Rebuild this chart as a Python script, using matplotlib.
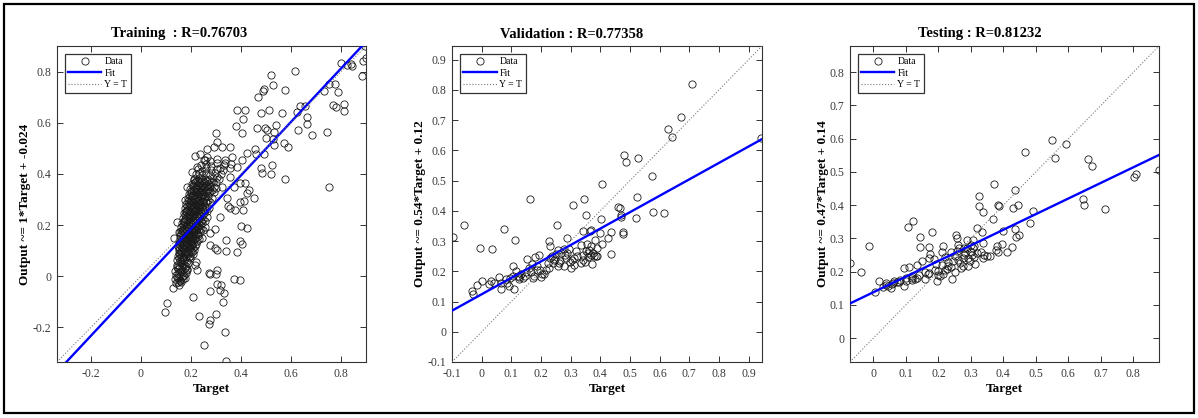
import matplotlib
matplotlib.use('Agg')
import matplotlib.pyplot as plt
from matplotlib.patches import Rectangle
from matplotlib.ticker import FuncFormatter, MultipleLocator

# ---------------- DATA ----------------
# Training: dense cluster (row by row) + scattered points
train_target = [
    0.142, 0.153, 0.161,
    0.136, 0.149, 0.158, 0.168,
    0.141, 0.150, 0.163, 0.172, 0.179,
    0.138, 0.147, 0.156, 0.166, 0.176, 0.186,
    0.143, 0.152, 0.160, 0.171, 0.181, 0.190,
    0.146, 0.155, 0.164, 0.174, 0.184, 0.195,
    0.148, 0.158, 0.167, 0.177, 0.188, 0.198, 0.207,
    0.151, 0.160, 0.170, 0.180, 0.190, 0.201, 0.212,
    0.149, 0.157, 0.166, 0.175, 0.185, 0.194, 0.204, 0.216,
    0.154, 0.163, 0.172, 0.182, 0.192, 0.202, 0.211, 0.224,
    0.158, 0.167, 0.176, 0.186, 0.195, 0.205, 0.215, 0.228, 0.243,
    0.156, 0.165, 0.174, 0.183, 0.193, 0.203, 0.213, 0.222, 0.236,
    0.161, 0.170, 0.179, 0.188, 0.198, 0.207, 0.217, 0.227, 0.240, 0.256,
    0.165, 0.174, 0.183, 0.192, 0.201, 0.211, 0.221, 0.232, 0.246,
    0.169, 0.178, 0.187, 0.196, 0.205, 0.214, 0.224, 0.234, 0.248, 0.263,
    0.173, 0.182, 0.191, 0.200, 0.209, 0.218, 0.228, 0.239, 0.252,
    0.177, 0.186, 0.195, 0.204, 0.213, 0.222, 0.232, 0.243, 0.257, 0.272,
    0.182, 0.191, 0.200, 0.209, 0.218, 0.227, 0.237, 0.248, 0.262,
    0.187, 0.196, 0.205, 0.214, 0.223, 0.232, 0.242, 0.253, 0.267, 0.283,
    0.192, 0.201, 0.210, 0.219, 0.228, 0.238, 0.248, 0.259, 0.274,
    0.198, 0.207, 0.216, 0.225, 0.235, 0.245, 0.256, 0.268, 0.285, 0.302,
    0.204, 0.214, 0.224, 0.234, 0.245, 0.257, 0.270, 0.288,
    0.211, 0.222, 0.233, 0.245, 0.258, 0.272, 0.290, 0.312,
    0.219, 0.232, 0.246, 0.261, 0.278, 0.298, 0.322,
    0.228, 0.244, 0.262, 0.281, 0.303, 0.330, 0.355,
    0.240, 0.259, 0.280, 0.304, 0.332, 0.362,
    0.255, 0.278, 0.305, 0.336,
    # scattered, upper right
    0.897, 0.900, 0.887, 0.884, 0.800, 0.824, 0.840, 0.844,
    0.733, 0.751, 0.775, 0.787, 0.767, 0.781, 0.811, 0.811,
    0.744, 0.751, 0.684, 0.664, 0.664, 0.657, 0.635, 0.624,
    0.627, 0.617, 0.577, 0.564, 0.573, 0.587, 0.575, 0.519,
    0.528, 0.493, 0.488, 0.468, 0.511, 0.481, 0.417, 0.384,
    0.408, 0.404, 0.379, 0.464, 0.495, 0.504, 0.541, 0.531,
    0.499, 0.528, 0.531, 0.524, 0.519, 0.480, 0.484, 0.457,
    0.461, 0.491, 0.451, 0.301, 0.235, 0.217, 0.264,
    # scattered, right of cluster
    0.397, 0.417, 0.431, 0.424, 0.411, 0.395, 0.377, 0.408,
    0.348, 0.355, 0.344, 0.317, 0.297, 0.277, 0.324, 0.371,
    0.357, 0.384, 0.404, 0.424, 0.364, 0.337, 0.317, 0.304,
    0.291, 0.357, 0.324, 0.304, 0.291, 0.264, 0.251, 0.224,
    0.204, 0.211, 0.184, 0.177, 0.144, 0.151, 0.131,
    # scattered, lower
    0.424, 0.400, 0.397, 0.404, 0.384, 0.341, 0.340, 0.304,
    0.277, 0.297, 0.371, 0.397, 0.304, 0.301, 0.271, 0.275,
    0.220, 0.215, 0.224, 0.304, 0.321, 0.317, 0.333, 0.275,
    0.327, 0.208, 0.301, 0.233, 0.271, 0.275, 0.337, 0.253,
    0.339, 0.127, 0.104, 0.097,
]
train_output = [
    -0.028, -0.035, -0.022,
    -0.012, -0.006, -0.018, -0.010,
    0.004, 0.010, -0.002, 0.006, 0.012,
    0.022, 0.030, 0.018, 0.026, 0.034, 0.024,
    0.044, 0.040, 0.050, 0.046, 0.042, 0.052,
    0.062, 0.058, 0.068, 0.064, 0.060, 0.070,
    0.080, 0.086, 0.076, 0.084, 0.090, 0.078, 0.088,
    0.102, 0.096, 0.106, 0.100, 0.108, 0.098, 0.104,
    0.118, 0.124, 0.114, 0.122, 0.126, 0.116, 0.124, 0.118,
    0.138, 0.132, 0.142, 0.136, 0.140, 0.134, 0.144, 0.138,
    0.156, 0.150, 0.160, 0.154, 0.158, 0.152, 0.162, 0.156, 0.150,
    0.172, 0.176, 0.168, 0.178, 0.170, 0.176, 0.172, 0.180, 0.174,
    0.192, 0.186, 0.196, 0.190, 0.194, 0.188, 0.198, 0.192, 0.186, 0.194,
    0.208, 0.212, 0.204, 0.214, 0.206, 0.212, 0.208, 0.216, 0.210,
    0.228, 0.222, 0.232, 0.226, 0.230, 0.224, 0.234, 0.228, 0.222, 0.230,
    0.246, 0.250, 0.242, 0.252, 0.244, 0.250, 0.246, 0.254, 0.248,
    0.266, 0.260, 0.270, 0.264, 0.268, 0.262, 0.272, 0.266, 0.260, 0.268,
    0.284, 0.288, 0.280, 0.290, 0.282, 0.288, 0.284, 0.292, 0.286,
    0.304, 0.298, 0.308, 0.302, 0.306, 0.300, 0.310, 0.304, 0.298, 0.306,
    0.322, 0.326, 0.318, 0.328, 0.320, 0.326, 0.322, 0.330, 0.324,
    0.342, 0.336, 0.346, 0.340, 0.344, 0.338, 0.348, 0.342, 0.336, 0.344,
    0.360, 0.364, 0.356, 0.366, 0.358, 0.364, 0.360, 0.368,
    0.380, 0.374, 0.384, 0.378, 0.382, 0.376, 0.386, 0.380,
    0.398, 0.402, 0.394, 0.404, 0.396, 0.402, 0.398,
    0.418, 0.412, 0.422, 0.416, 0.420, 0.414, 0.422,
    0.436, 0.440, 0.432, 0.442, 0.434, 0.440,
    0.456, 0.452, 0.460, 0.454,
    # scattered, upper right
    0.901, 0.852, 0.843, 0.781, 0.835, 0.827, 0.830, 0.822,
    0.726, 0.752, 0.752, 0.722, 0.668, 0.661, 0.672, 0.645,
    0.564, 0.350, 0.554, 0.597, 0.623, 0.664, 0.664, 0.642,
    0.571, 0.802, 0.729, 0.639, 0.519, 0.506, 0.380, 0.787,
    0.746, 0.733, 0.724, 0.700, 0.648, 0.638, 0.648, 0.648,
    0.613, 0.560, 0.586, 0.580, 0.581, 0.573, 0.590, 0.564,
    0.542, 0.538, 0.515, 0.435, 0.399, 0.422, 0.402, 0.499,
    0.477, 0.477, 0.305, 0.560, 0.477, 0.471, 0.467,
    # scattered, right of cluster
    0.366, 0.363, 0.337, 0.324, 0.294, 0.292, 0.259, 0.259,
    0.275, 0.266, 0.307, 0.233, 0.184, 0.169, 0.350, 0.350,
    0.389, 0.428, 0.454, 0.480, 0.467, 0.441, 0.422, 0.389,
    0.350, 0.506, 0.506, 0.525, 0.506, 0.499, 0.454, 0.428,
    0.409, 0.376, 0.350, 0.298, 0.214, 0.175, 0.149,
    # scattered, lower
    0.188, 0.195, 0.136, 0.126, 0.095, 0.140, 0.097, 0.104,
    0.123, 0.110, -0.010, -0.016, 0.026, 0.009, 0.013, 0.009,
    0.054, 0.045, 0.026, -0.032, -0.036, -0.052, -0.067, -0.056,
    -0.101, -0.080, -0.147, -0.156, -0.188, -0.169, -0.218, -0.268,
    -0.333, -0.045, -0.104, -0.140,
]
# Training: extra points filling the dense core
train_core_target = [
    0.147, 0.157,
    0.145, 0.155, 0.167, 0.176,
    0.145, 0.154, 0.163, 0.175, 0.183,
    0.151, 0.160, 0.170, 0.180, 0.191,
    0.153, 0.163, 0.173, 0.183, 0.194, 0.204,
    0.154, 0.164, 0.174, 0.184, 0.196, 0.207,
    0.152, 0.161, 0.170, 0.179, 0.189, 0.199, 0.208, 0.220,
    0.156, 0.165, 0.175, 0.185, 0.196, 0.206, 0.218, 0.232,
    0.160, 0.169, 0.179, 0.189, 0.199, 0.209, 0.219, 0.230,
    0.163, 0.172, 0.182, 0.192, 0.202, 0.212, 0.222, 0.233, 0.248,
    0.167, 0.176, 0.186, 0.196, 0.206, 0.216, 0.226, 0.238,
    0.171, 0.181, 0.191, 0.200, 0.210, 0.220, 0.230, 0.242, 0.256,
    0.175, 0.185, 0.194, 0.204, 0.214, 0.224, 0.235, 0.246,
    0.179, 0.189, 0.198, 0.208, 0.218, 0.228, 0.238, 0.250, 0.264,
    0.184, 0.193, 0.203, 0.213, 0.223, 0.233, 0.243, 0.255,
    0.189, 0.199, 0.209, 0.219, 0.229, 0.239, 0.250, 0.262, 0.276,
    0.195, 0.205, 0.215, 0.225, 0.235, 0.245, 0.256, 0.268,
    0.201, 0.211, 0.221, 0.231, 0.241, 0.252, 0.263, 0.277, 0.293,
    0.208, 0.219, 0.229, 0.240, 0.251, 0.263, 0.278,
    0.216, 0.227, 0.239, 0.251, 0.265, 0.280, 0.300,
]
train_core_output = [
    -0.022, -0.016,
    -0.004, 0.002, 0.000, -0.006,
    0.036, 0.032, 0.038, 0.034, 0.030,
    0.072, 0.074, 0.070, 0.076, 0.074,
    0.092, 0.094, 0.090, 0.096, 0.092, 0.094,
    0.110, 0.112, 0.108, 0.114, 0.110, 0.112,
    0.128, 0.130, 0.126, 0.130, 0.132, 0.128, 0.130, 0.126,
    0.146, 0.144, 0.148, 0.144, 0.146, 0.142, 0.148, 0.144,
    0.164, 0.162, 0.166, 0.164, 0.162, 0.166, 0.164, 0.166,
    0.182, 0.180, 0.184, 0.182, 0.180, 0.184, 0.182, 0.184, 0.180,
    0.200, 0.202, 0.198, 0.200, 0.202, 0.198, 0.202, 0.200,
    0.218, 0.220, 0.216, 0.220, 0.218, 0.216, 0.220, 0.218, 0.216,
    0.238, 0.236, 0.240, 0.238, 0.236, 0.240, 0.238, 0.236,
    0.256, 0.258, 0.254, 0.256, 0.258, 0.254, 0.258, 0.256, 0.254,
    0.276, 0.274, 0.278, 0.276, 0.274, 0.278, 0.276, 0.274,
    0.294, 0.296, 0.292, 0.294, 0.296, 0.292, 0.296, 0.294, 0.292,
    0.314, 0.312, 0.316, 0.314, 0.312, 0.316, 0.314, 0.312,
    0.332, 0.334, 0.330, 0.332, 0.334, 0.330, 0.334, 0.332, 0.330,
    0.352, 0.350, 0.354, 0.352, 0.350, 0.354, 0.352,
    0.370, 0.372, 0.368, 0.370, 0.372, 0.368, 0.370,
]

val_target = [
    -0.098, -0.058, -0.006, 0.036, 0.074, 0.112, 0.163, 0.253,
    0.307, 0.345, 0.351, 0.407, 0.401, 0.341, 0.370, 0.366,
    0.286, 0.228, 0.230, 0.382, 0.398, 0.407, 0.426, 0.437,
    0.435, 0.460, 0.466, 0.469, 0.471, 0.475, 0.478, 0.480,
    0.487, 0.528, 0.522, 0.521, 0.574, 0.578, 0.613, 0.629,
    0.641, 0.671, 0.709, 0.943,
    -0.034, -0.030, -0.016, 0.001, 0.026, 0.031, 0.043, 0.058,
    0.065, 0.065, 0.087, 0.082, 0.091, 0.104, 0.110, 0.105,
    0.115, 0.121, 0.127, 0.132, 0.138, 0.152, 0.160, 0.166,
    0.172, 0.177, 0.179, 0.192, 0.188, 0.197, 0.200, 0.211,
    0.216, 0.222, 0.228, 0.236, 0.245, 0.251, 0.239, 0.258,
    0.256, 0.268, 0.276, 0.265, 0.276, 0.284, 0.289, 0.295,
    0.303, 0.310, 0.312, 0.300, 0.321, 0.334, 0.340, 0.334,
    0.343, 0.351, 0.357, 0.362, 0.368, 0.373, 0.379, 0.384,
    0.390, 0.370, 0.354, 0.390,
    0.095, 0.125, 0.145, 0.185, 0.205, 0.232, 0.262, 0.282,
    0.298, 0.318, 0.348, 0.360, 0.376, 0.148, 0.170, 0.248,
]
val_output = [
    0.313, 0.352, 0.277, 0.274, 0.340, 0.304, 0.440, 0.352,
    0.420, 0.440, 0.387, 0.489, 0.374, 0.334, 0.337, 0.332,
    0.310, 0.299, 0.282, 0.302, 0.326, 0.291, 0.309, 0.330,
    0.257, 0.414, 0.408, 0.387, 0.381, 0.330, 0.323, 0.585,
    0.563, 0.574, 0.444, 0.376, 0.516, 0.397, 0.392, 0.671,
    0.645, 0.711, 0.819, 0.640,
    0.134, 0.126, 0.154, 0.169, 0.158, 0.169, 0.162, 0.181,
    0.143, 0.162, 0.162, 0.175, 0.151, 0.186, 0.143, 0.216,
    0.200, 0.184, 0.175, 0.192, 0.178, 0.241, 0.211, 0.197,
    0.178, 0.186, 0.247, 0.253, 0.216, 0.203, 0.181, 0.192,
    0.203, 0.227, 0.211, 0.252, 0.238, 0.258, 0.227, 0.216,
    0.269, 0.260, 0.274, 0.233, 0.216, 0.244, 0.260, 0.274,
    0.238, 0.222, 0.244, 0.211, 0.249, 0.227, 0.238, 0.288,
    0.255, 0.266, 0.260, 0.271, 0.255, 0.225, 0.249, 0.252,
    0.249, 0.282, 0.290, 0.277,
    0.178, 0.182, 0.185, 0.203, 0.190, 0.243, 0.228, 0.255,
    0.232, 0.268, 0.230, 0.246, 0.262, 0.198, 0.225, 0.240,
]

test_target = [
    -0.072, -0.039, -0.012, 0.005, 0.018, 0.031, 0.039, 0.046,
    0.056, 0.062, 0.053, 0.072, 0.082, 0.094, 0.100, 0.094,
    0.110, 0.105, 0.123, 0.142, 0.142, 0.179, 0.172, 0.174,
    0.172, 0.215, 0.210, 0.133, 0.149, 0.118, 0.128, 0.133,
    0.118, 0.159, 0.169, 0.195, 0.205, 0.200, 0.215, 0.226,
    0.231, 0.193, 0.185, 0.241, 0.246, 0.251, 0.256, 0.262,
    0.254, 0.256, 0.267, 0.275, 0.277, 0.282, 0.287, 0.289,
    0.292, 0.297, 0.303, 0.306, 0.308, 0.310, 0.313, 0.318,
    0.326, 0.326, 0.333, 0.336, 0.336, 0.341, 0.336, 0.349,
    0.359, 0.367, 0.371, 0.379, 0.377, 0.382, 0.385, 0.387,
    0.395, 0.400, 0.410, 0.426, 0.431, 0.436, 0.436, 0.438,
    0.444, 0.449, 0.468, 0.483, 0.492, 0.549, 0.559, 0.593,
    0.644, 0.648, 0.661, 0.674, 0.713, 0.803, 0.807, 0.879,
    0.200, 0.220, 0.240, 0.260, 0.280, 0.300, 0.250, 0.270,
    0.290, 0.310, 0.320, 0.330, 0.230, 0.210, 0.190, 0.170,
    0.160, 0.140, 0.120, 0.100, 0.080, 0.060, 0.040, 0.260,
    0.280, 0.300, 0.240, 0.220,
]
test_output = [
    0.227, 0.199, 0.278, 0.140, 0.172, 0.155, 0.167, 0.157,
    0.162, 0.172, 0.150, 0.169, 0.175, 0.157, 0.172, 0.212,
    0.214, 0.334, 0.351, 0.304, 0.274, 0.318, 0.274, 0.254,
    0.242, 0.276, 0.258, 0.219, 0.232, 0.187, 0.177, 0.182,
    0.182, 0.177, 0.192, 0.172, 0.187, 0.202, 0.192, 0.207,
    0.217, 0.222, 0.237, 0.179, 0.232, 0.247, 0.261, 0.271,
    0.311, 0.301, 0.227, 0.217, 0.242, 0.257, 0.296, 0.271,
    0.217, 0.232, 0.251, 0.271, 0.296, 0.276, 0.222, 0.331,
    0.427, 0.396, 0.318, 0.378, 0.286, 0.251, 0.241, 0.247,
    0.247, 0.358, 0.465, 0.278, 0.264, 0.258, 0.400, 0.397,
    0.283, 0.323, 0.259, 0.273, 0.391, 0.445, 0.328, 0.303,
    0.401, 0.311, 0.560, 0.346, 0.383, 0.596, 0.543, 0.583,
    0.418, 0.401, 0.540, 0.518, 0.389, 0.485, 0.495, 0.507,
    0.190, 0.205, 0.215, 0.235, 0.250, 0.260, 0.200, 0.210,
    0.240, 0.245, 0.255, 0.260, 0.230, 0.220, 0.205, 0.195,
    0.200, 0.190, 0.175, 0.180, 0.170, 0.165, 0.160, 0.280,
    0.270, 0.280, 0.260, 0.245,
]

titles = ["Training  : R=0.76703", "Validation : R=0.77358", "Testing : R=0.81232"]
ylabels = ["Output ~= 1*Target + -0.024", "Output ~= 0.54*Target + 0.12",
           "Output ~= 0.47*Target + 0.14"]
fit_slopes = [1.045, 0.543, 0.470]
fit_intercepts = [-0.024, 0.124, 0.138]
axis_limits = [(-0.335, 0.90), (-0.10, 0.945), (-0.072, 0.879)]
tick_steps = [0.2, 0.1, 0.1]
legend_labels = ["Data", "Fit", "Y = T"]

# ---------------- STYLE / LAYOUT ----------------
plt.rcParams['font.family'] = ['Liberation Serif', 'DejaVu Serif']
plt.rcParams['axes.unicode_minus'] = False

W, H = 1198, 418
fig = plt.figure(figsize=(W / 100, H / 100), dpi=100)

panels_px = [(57, 366), (452, 762), (850, 1159)]
top_px, bot_px = 46, 362
title_cx = [0.395, 0.385, 0.42]
ylabel_x = [25, 420, 823]

datasets = [(train_target + train_core_target, train_output + train_core_output),
            (val_target, val_output),
            (test_target, test_output)]

fmt = FuncFormatter(lambda v, p: '%g' % round(v, 2))

for i in range(3):
    l, r = panels_px[i]
    ax = fig.add_axes([l / W, 1 - bot_px / H, (r - l) / W, (bot_px - top_px) / H])
    lo, hi = axis_limits[i]
    tx, ty = datasets[i]
    ax.plot(tx, ty, 'o', mfc='none', mec='#1a1a1a', ms=5.2, mew=0.6,
            label=legend_labels[0], zorder=2)
    ax.plot([lo, hi], [fit_slopes[i] * lo + fit_intercepts[i],
                       fit_slopes[i] * hi + fit_intercepts[i]],
            '-', color=(0, 0, 1), lw=1.7, label=legend_labels[1], zorder=3)
    ax.plot([lo, hi], [lo, hi], ':', color='#7a7a7a', lw=0.8,
            label=legend_labels[2], zorder=3)
    ax.set_xlim(lo, hi)
    ax.set_ylim(lo, hi)
    ax.xaxis.set_major_locator(MultipleLocator(tick_steps[i]))
    ax.yaxis.set_major_locator(MultipleLocator(tick_steps[i]))
    ax.xaxis.set_major_formatter(fmt)
    ax.yaxis.set_major_formatter(fmt)
    ax.tick_params(direction='in', length=4, width=0.7, top=True, right=True,
                   labelsize=8.5, color='#333333', labelcolor='#3a3a3a', pad=4)
    for s in ax.spines.values():
        s.set_color('#333333')
        s.set_linewidth(0.8)
    leg = ax.legend(loc='upper left', bbox_to_anchor=(0.026, 0.975),
                    borderaxespad=0, fontsize=7, frameon=True, fancybox=False,
                    edgecolor='#333333', framealpha=1, handlelength=3.4,
                    handletextpad=0.3, borderpad=0.35, labelspacing=0.25)
    leg.get_frame().set_linewidth(0.9)
    ax.text(title_cx[i], 1 + 12 / (bot_px - top_px), titles[i],
            transform=ax.transAxes, ha='center', va='center',
            fontsize=10.5, fontweight='bold')
    fig.text(ylabel_x[i] / W, 1 - ((top_px + bot_px) / 2) / H, ylabels[i],
             rotation=90, ha='center', va='center', fontsize=9.5,
             fontweight='bold')
    fig.text(((l + r) / 2) / W, 1 - 389 / H, 'Target', ha='center', va='center',
             fontsize=9.5, fontweight='bold')

fig.patches.append(Rectangle((4 / W, 5 / H), 1190 / W, 409 / H,
                             transform=fig.transFigure, fill=False,
                             ec='black', lw=1.6))

fig.savefig('out.png', dpi=100)
